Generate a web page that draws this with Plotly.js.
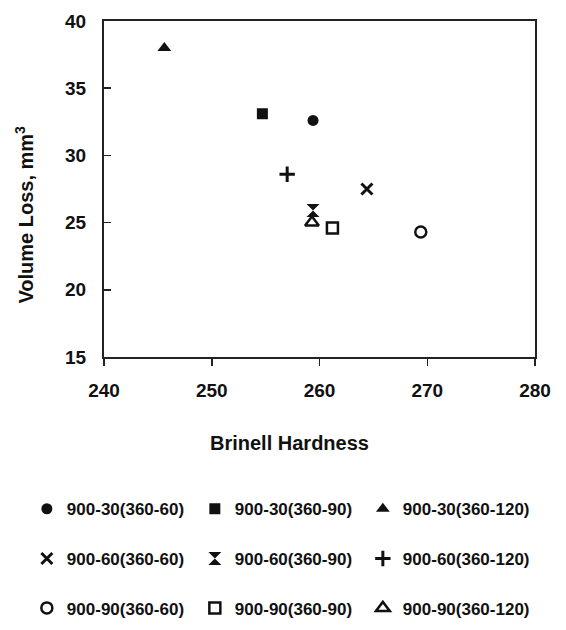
<!DOCTYPE html>
<html>
<head>
<meta charset="utf-8">
<script src="https://cdn.plot.ly/plotly-3.0.1.min.js"></script>
<style>html,body{margin:0;padding:0;background:#fff;}#chart{width:566px;height:630px;}</style>
</head>
<body>
<div id="chart"></div>
<script>
// Series names (legend labels)
const seriesNames = [
  "900-30(360-60)", "900-30(360-90)", "900-30(360-120)",
  "900-60(360-60)", "900-60(360-90)", "900-60(360-120)",
  "900-90(360-60)", "900-90(360-90)", "900-90(360-120)"
];
// Brinell hardness (x) per series
const hardness = [259.4, 254.7, 245.6, 264.4, 259.4, 257.0, 269.4, 261.2, 259.3];
// Volume loss, mm3 (y) per series
const volumeLoss = [32.6, 33.1, 38.0, 27.5, 25.9, 28.6, 24.3, 24.6, 25.0];
// Marker symbols per series
const symbols = [
  "circle", "square", "triangle-up",
  "x-thin-open", "hourglass", "cross-thin-open",
  "circle-open", "square-open", "triangle-up-open"
];
const xTicks = [240, 250, 260, 270, 280];
const yTicks = [15, 20, 25, 30, 35, 40];

const FONT = "Arial, 'Liberation Sans', sans-serif";
const legendIds = ["legend", "legend2", "legend3"];

const traces = seriesNames.map((name, i) => {
  const sym = symbols[i];
  const isLine = sym.indexOf("thin") >= 0;
  let size = 11;
  if (sym.indexOf("triangle") === 0) size = 12;
  if (sym === "hourglass") size = 13;
  return {
    type: "scatter",
    mode: "markers",
    name: name,
    x: [hardness[i]],
    y: [volumeLoss[i]],
    legend: legendIds[Math.floor(i / 3)],
    marker: {
      symbol: sym,
      size: size,
      color: "#111",
      line: {color: "#111", width: isLine ? 3 : (sym.indexOf("open") >= 0 ? 2.5 : 0)}
    },
    hoverinfo: "x+y+name"
  };
});

const legendBase = {
  orientation: "h",
  xanchor: "left",
  yanchor: "middle",
  x: -0.179,
  entrywidth: 123,
  entrywidthmode: "pixels",
  bgcolor: "rgba(0,0,0,0)",
  font: {family: FONT, size: 17, color: "#111", weight: 700},
  itemclick: false,
  itemdoubleclick: false
};

const layout = {
  width: 566,
  height: 630,
  paper_bgcolor: "#fff",
  plot_bgcolor: "#fff",
  margin: {l: 104, r: 31, t: 21, b: 273, autoexpand: false},
  font: {family: FONT, color: "#111", size: 19, weight: 700},
  showlegend: true,
  xaxis: {
    range: [240, 280],
    tickvals: xTicks,
    ticktext: xTicks.map(String),
    ticks: "outside",
    ticklen: 7,
    tickwidth: 1.5,
    tickcolor: "#222",
    showline: true,
    linecolor: "#222",
    linewidth: 2,
    mirror: true,
    showgrid: false,
    zeroline: false,
    ticklabelstandoff: 8,
    tickfont: {family: FONT, size: 19, color: "#111", weight: 700}
  },
  yaxis: {
    range: [15, 40],
    tickvals: yTicks,
    ticktext: yTicks.map(String),
    ticks: "inside",
    ticklen: 7,
    tickwidth: 1.5,
    tickcolor: "#222",
    showline: true,
    linecolor: "#222",
    linewidth: 2,
    mirror: true,
    showgrid: false,
    zeroline: false,
    ticklabelstandoff: 12,
    tickfont: {family: FONT, size: 19, color: "#111", weight: 700}
  },
  annotations: [
    {
      text: "Brinell Hardness",
      xref: "paper", yref: "paper",
      x: 0.43, y: -0.256,
      xanchor: "center", yanchor: "middle",
      showarrow: false,
      font: {family: FONT, size: 20, color: "#111", weight: 700}
    },
    {
      text: "Volume Loss, mm<sup>3</sup>",
      xref: "paper", yref: "paper",
      x: -0.184, y: 0.423,
      xanchor: "center", yanchor: "middle",
      textangle: -90,
      showarrow: false,
      font: {family: FONT, size: 20, color: "#111", weight: 700}
    }
  ],
  legend: Object.assign({}, legendBase, {y: -0.453}),
  legend2: Object.assign({}, legendBase, {y: -0.601}),
  legend3: Object.assign({}, legendBase, {y: -0.748})
};

Plotly.newPlot("chart", traces, layout, {displayModeBar: false, staticPlot: true});
</script>
</body>
</html>
